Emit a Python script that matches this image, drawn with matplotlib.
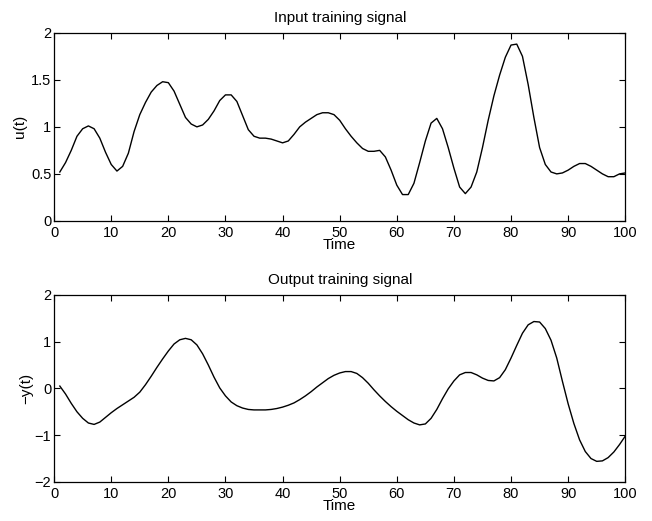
import matplotlib
matplotlib.use("Agg")
import matplotlib.pyplot as plt
import numpy as np

t = list(range(1, 101))
u_vals = [0.52, 0.62, 0.75, 0.90, 0.98, 1.01, 0.98, 0.88, 0.73, 0.60,
          0.53, 0.58, 0.72, 0.95, 1.13, 1.26, 1.37, 1.44, 1.48, 1.47,
          1.38, 1.24, 1.10, 1.03, 1.00, 1.02, 1.08, 1.17, 1.28, 1.34,
          1.34, 1.27, 1.12, 0.97, 0.90, 0.88, 0.88, 0.87, 0.85, 0.83,
          0.85, 0.92, 1.00, 1.05, 1.09, 1.13, 1.15, 1.15, 1.13, 1.07,
          0.98, 0.90, 0.83, 0.77, 0.74, 0.74, 0.75, 0.68, 0.54, 0.38,
          0.28, 0.28, 0.40, 0.62, 0.85, 1.04, 1.09, 0.98, 0.78, 0.56,
          0.36, 0.29, 0.36, 0.52, 0.78, 1.07, 1.33, 1.55, 1.74, 1.87,
          1.88, 1.75, 1.45, 1.10, 0.78, 0.60, 0.52, 0.50, 0.51, 0.54,
          0.58, 0.61, 0.61, 0.58, 0.54, 0.50, 0.47, 0.47, 0.50, 0.51]
y_vals = [0.05, -0.12, -0.32, -0.50, -0.64, -0.74, -0.77, -0.72, -0.62, -0.52,
          -0.43, -0.35, -0.27, -0.19, -0.08, 0.08, 0.26, 0.45, 0.63, 0.80,
          0.95, 1.04, 1.07, 1.04, 0.93, 0.74, 0.50, 0.24, 0.01, -0.16,
          -0.29, -0.37, -0.42, -0.45, -0.46, -0.46, -0.46, -0.45, -0.43, -0.40,
          -0.36, -0.31, -0.24, -0.16, -0.07, 0.03, 0.12, 0.21, 0.28, 0.33,
          0.36, 0.36, 0.32, 0.23, 0.11, -0.03, -0.16, -0.28, -0.39, -0.49,
          -0.58, -0.67, -0.74, -0.78, -0.76, -0.64, -0.45, -0.22, -0.01, 0.16,
          0.29, 0.34, 0.34, 0.29, 0.22, 0.17, 0.16, 0.23, 0.40, 0.65,
          0.92, 1.18, 1.36, 1.43, 1.42, 1.28, 1.03, 0.65, 0.15, -0.33,
          -0.75, -1.10, -1.35, -1.50, -1.56, -1.55, -1.48, -1.36, -1.20, -1.02]

x_ticks = [0, 10, 20, 30, 40, 50, 60, 70, 80, 90, 100]
u_ticks = [0, 0.5, 1, 1.5, 2]
u_ticklabels = ["0", "0.5", "1", "1.5", "2"]
y_ticks = [-2, -1, 0, 1, 2]
y_ticklabels = ["\u22122", "\u22121", "0", "1", "2"]

plt.rcParams['font.family'] = ['Liberation Sans', 'DejaVu Sans']
fs = 10.5
tfs = 11

fig = plt.figure(figsize=(6.52, 5.21), dpi=100)
ax1 = fig.add_axes([0.083, 0.576, 0.876, 0.361])
ax2 = fig.add_axes([0.083, 0.075, 0.876, 0.359])

def style(ax):
    ax.tick_params(direction='in', top=True, right=True, length=4, width=0.8,
                   labelsize=fs)
    ax.tick_params(axis='x', pad=3.5)
    ax.tick_params(axis='y', pad=2)
    for s in ax.spines.values():
        s.set_linewidth(0.9)

ax1.plot(t, u_vals, color='black', linewidth=1.0)
ax1.set_xlim(0, 100)
ax1.set_ylim(0, 2)
ax1.set_xticks(x_ticks)
ax1.set_yticks(u_ticks)
ax1.set_yticklabels(u_ticklabels)
ax1.set_title("Input training signal", fontsize=tfs, pad=8)
ax1.set_xlabel("Time", fontsize=tfs, labelpad=-1)
ax1.set_ylabel("u(t)", fontsize=tfs, labelpad=3)
style(ax1)

ax2.plot(t, y_vals, color='black', linewidth=1.0)
ax2.set_xlim(0, 100)
ax2.set_ylim(-2, 2)
ax2.set_xticks(x_ticks)
ax2.set_yticks(y_ticks)
ax2.set_yticklabels(y_ticklabels)
ax2.set_title("Output training signal", fontsize=tfs, pad=8)
ax2.set_xlabel("Time", fontsize=tfs, labelpad=-1)
ax2.set_ylabel("\u2212y(t)", fontsize=tfs, labelpad=1)
style(ax2)

fig.savefig("out.png", dpi=100)
